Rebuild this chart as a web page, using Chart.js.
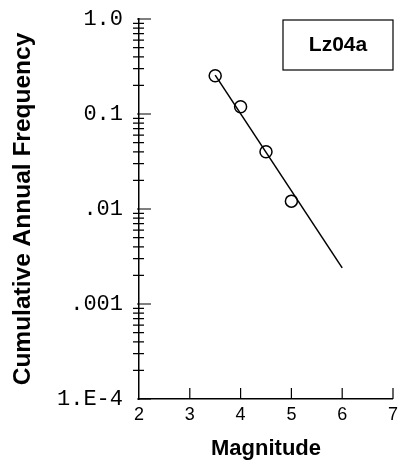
<!DOCTYPE html>
<html>
<head>
<meta charset="utf-8">
<script src="https://cdn.jsdelivr.net/npm/chart.js@4/dist/chart.umd.min.js"></script>
<style>
  html, body { margin: 0; padding: 0; background: #fff; }
  canvas { display: block; }
</style>
</head>
<body>
<canvas id="myChart" width="403" height="468"></canvas>
<script>
// observed events
const magnitudes = [3.5, 4.0, 4.5, 5.0];
const frequencies = [0.253, 0.119, 0.040, 0.0121];

// fitted recurrence line
const fitMagnitudes = [3.5, 6.0];
const fitFrequencies = [0.257, 0.0024];

// axis ticks
const yTickValues = [0.0001, 0.001, 0.01, 0.1, 1];
const yTickLabels = ["1.E-4", ".001", ".01", "0.1", "1.0"];
const minorSteps = [2, 3, 4, 5, 6, 7, 8, 9];
const boxLabel = "Lz04a";

const sans = "'Liberation Sans', Arial, sans-serif";
const mono = "'Liberation Mono', 'Courier New', monospace";

// draws the inward tick marks and minor log ticks
const axisTicks = {
  id: "axisTicks",
  afterDraw(chart) {
    const { ctx, chartArea: a, scales: { x, y } } = chart;
    ctx.save();
    ctx.strokeStyle = "#000";
    ctx.lineWidth = 1.2;
    ctx.beginPath();
    yTickValues.forEach(v => {
      const py = y.getPixelForValue(v);
      ctx.moveTo(a.left - 2, py);
      ctx.lineTo(a.left + 12, py);
    });
    yTickValues.slice(0, -1).forEach(v => {
      minorSteps.forEach(m => {
        const py = y.getPixelForValue(v * m);
        ctx.moveTo(a.left - 6, py);
        ctx.lineTo(a.left + 5, py);
      });
    });
    x.ticks.forEach(t => {
      if (t.value <= x.min) return;
      const px = x.getPixelForValue(t.value);
      ctx.moveTo(px, a.bottom);
      ctx.lineTo(px, a.bottom - 11);
    });
    ctx.stroke();
    ctx.restore();
  }
};

// boxed site label in the top right corner
const labelBox = {
  id: "labelBox",
  afterDraw(chart) {
    const { ctx, chartArea: a } = chart;
    const w = 110, h = 50;
    const left = a.right - w, top = a.top + 1;
    ctx.save();
    ctx.strokeStyle = "#000";
    ctx.lineWidth = 1.2;
    ctx.strokeRect(left, top, w, h);
    ctx.fillStyle = "#000";
    ctx.font = "bold 21px " + sans;
    ctx.textAlign = "center";
    ctx.textBaseline = "middle";
    ctx.fillText(boxLabel, left + w / 2, top + h / 2);
    ctx.restore();
  }
};

new Chart(document.getElementById("myChart"), {
  type: "scatter",
  data: {
    datasets: [
      {
        label: "fit",
        data: fitMagnitudes.map((m, i) => ({ x: m, y: fitFrequencies[i] })),
        showLine: true,
        borderColor: "#000",
        borderWidth: 1.5,
        pointRadius: 0
      },
      {
        label: boxLabel,
        data: magnitudes.map((m, i) => ({ x: m, y: frequencies[i] })),
        showLine: false,
        pointRadius: 6,
        pointBorderWidth: 1.5,
        pointBorderColor: "#000",
        pointBackgroundColor: "rgba(0,0,0,0)"
      }
    ]
  },
  options: {
    responsive: false,
    animation: false,
    layout: { padding: { top: 19, right: 10, bottom: 0, left: 0 } },
    plugins: {
      legend: { display: false },
      tooltip: { enabled: false }
    },
    scales: {
      x: {
        type: "linear",
        min: 2,
        max: 7,
        grid: { display: false, drawTicks: false },
        border: { color: "#000", width: 1.5 },
        ticks: {
          stepSize: 1,
          color: "#000",
          padding: 5,
          font: { family: sans, size: 18 }
        },
        title: {
          display: true,
          text: "Magnitude",
          color: "#000",
          font: { family: sans, size: 22, weight: "bold" },
          padding: { top: 0, bottom: 6 }
        },
        afterFit: s => { s.height = 69; }
      },
      y: {
        type: "logarithmic",
        min: 0.0001,
        max: 1,
        grid: { display: false, drawTicks: false },
        border: { color: "#000", width: 1.5 },
        afterBuildTicks: s => {
          s.ticks = yTickValues.map(v => ({ value: v, major: true }));
        },
        ticks: {
          autoSkip: false,
          color: "#000",
          padding: 16,
          font: { family: mono, size: 22 },
          callback: (v, i) => yTickLabels[i]
        },
        title: {
          display: true,
          text: "Cumulative Annual Frequency",
          color: "#000",
          font: { family: sans, size: 24.5, weight: "bold" },
          padding: { top: 9, bottom: 0 }
        },
        afterFit: s => {
          s.width = 139;
          s.paddingTop = 14;
          s.paddingBottom = 14;
        }
      }
    }
  },
  plugins: [axisTicks, labelBox]
});
</script>
</body>
</html>
